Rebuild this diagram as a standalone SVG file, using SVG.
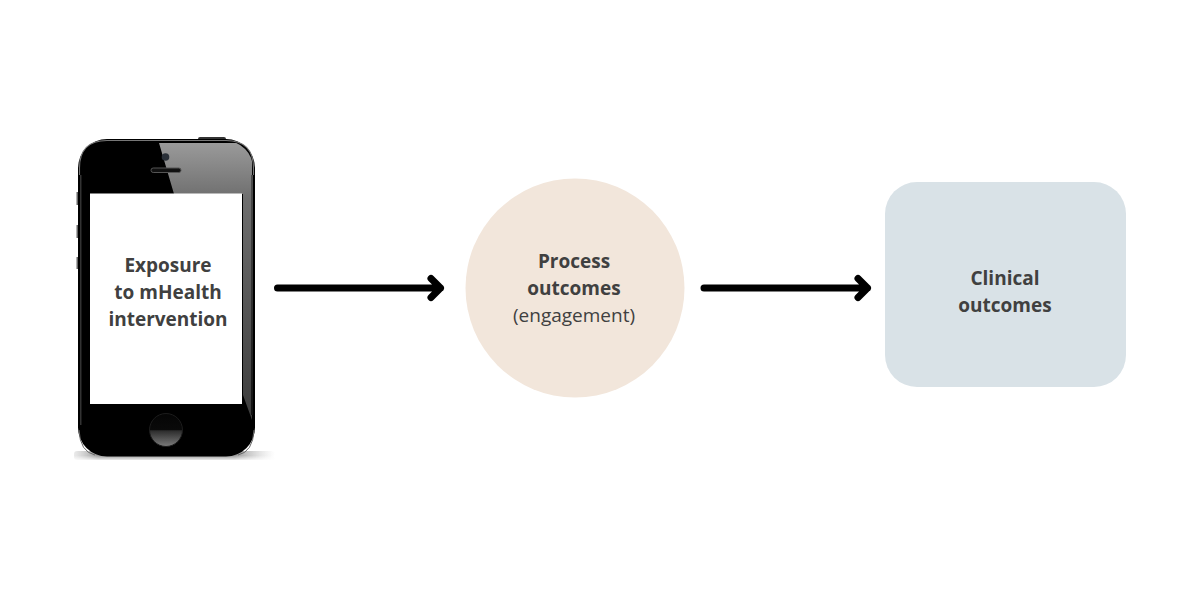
<svg xmlns="http://www.w3.org/2000/svg" width="1200" height="600" viewBox="0 0 1200 600">
<style>
.t{font-family:"Open Sans","Noto Sans",sans-serif;font-size:19px;fill:#404040;text-anchor:middle}
.b{font-weight:700}
.l{font-weight:400}
.arrow{fill:none;stroke:#000;stroke-width:7;stroke-linecap:round;stroke-linejoin:round}
</style>
<defs>
<linearGradient id="glare" x1="0" y1="0" x2="0" y2="1"><stop offset="0" stop-color="#9a9a9a"/><stop offset="0.2" stop-color="#6e6e6e"/><stop offset="1" stop-color="#3c3c3c"/></linearGradient>
<linearGradient id="side" x1="0" y1="0" x2="0" y2="1"><stop offset="0" stop-color="#4c4c4c"/><stop offset="0.55" stop-color="#2e2e2e"/><stop offset="1" stop-color="#111"/></linearGradient>
<linearGradient id="btn" x1="0" y1="0" x2="0" y2="1"><stop offset="0" stop-color="#050505"/><stop offset="0.5" stop-color="#0a0a0a"/><stop offset="0.52" stop-color="#2c2c2c"/><stop offset="1" stop-color="#7c7c7c"/></linearGradient>
<linearGradient id="shadow" x1="0" y1="0" x2="1" y2="0"><stop offset="0" stop-color="#ccc" stop-opacity="0.4"/><stop offset="0.12" stop-color="#999"/><stop offset="0.8" stop-color="#999"/><stop offset="1" stop-color="#ccc" stop-opacity="0"/></linearGradient>
<linearGradient id="shadowM" x1="0" y1="0" x2="0" y2="1"><stop offset="0" stop-color="#fff"/><stop offset="0.5" stop-color="#fff"/><stop offset="1" stop-color="#000"/></linearGradient>
<mask id="fade"><rect x="70" y="450" width="210" height="11" fill="url(#shadowM)"/></mask>
<clipPath id="body"><rect x="80" y="141" width="173" height="314" rx="27"/></clipPath>
</defs>
<g id="phone">
<rect x="74" y="451" width="201" height="9" rx="3" fill="url(#shadow)" mask="url(#fade)"/>
<rect x="198" y="137" width="28" height="5" rx="2" fill="#333"/>
<rect x="76.500" y="192" width="2.500" height="13" fill="#666"/>
<rect x="76.500" y="225" width="2.500" height="13" fill="#666"/>
<rect x="76.500" y="257" width="2.500" height="12" fill="#666"/>
<rect x="78" y="139" width="177" height="317.500" rx="29" fill="#000"/>
<path d="M79.500 175V168Q79.500 140.500 107 140.500H226Q253.500 140.500 253.500 168V175" fill="none" stroke="#777" stroke-width="1.100"/>
<path d="M95 455Q80 452 79 430M238 455Q253 452 254 430" fill="none" stroke="#666" stroke-width="1"/>
<g clip-path="url(#body)">
<path d="M159 143H252V420L243 395V194H174Z" fill="url(#glare)"/>
</g>
<rect x="80" y="175" width="1.500" height="250" fill="#333"/>
<rect x="251" y="175" width="2" height="240" fill="url(#side)"/>
<circle cx="165.500" cy="157" r="3.800" fill="#2a3038"/>
<rect x="151" y="168" width="30" height="4.500" rx="2.200" fill="#111" stroke="#555" stroke-width="1"/>
<rect x="90" y="193.500" width="152" height="210.500" fill="#fff"/>
<circle cx="166" cy="430" r="16.500" fill="url(#btn)" stroke="#1c1c1c" stroke-width="1"/>
<text class="t b" x="168" y="272">Exposure</text>
<text class="t b" x="168" y="299">to mHealth</text>
<text class="t b" x="168" y="326">intervention</text>
</g>
<g id="process">
<circle cx="575" cy="288" r="109.500" fill="#f2e6db"/>
<text class="t b" x="574" y="268">Process</text>
<text class="t b" x="574" y="295">outcomes</text>
<text class="t l" x="574" y="322">(engagement)</text>
</g>
<g id="clinical">
<rect x="885" y="182" width="241" height="205" rx="32" fill="#d9e2e7"/>
<text class="t b" x="1005" y="285">Clinical</text>
<text class="t b" x="1005" y="312">outcomes</text>
</g>
<g id="connectors">
<path class="arrow" d="M277.500 288H440.500M431 278.500L440.500 288L431 297.500"/>
<path class="arrow" d="M704 288H867.500M858 278.500L867.500 288L858 297.500"/>
</g>
</svg>
